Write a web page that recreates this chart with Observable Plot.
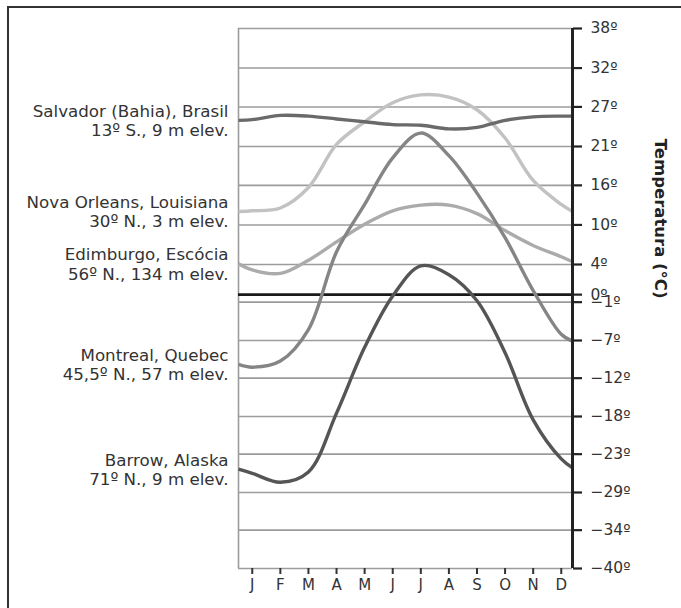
<!DOCTYPE html>
<html>
<head>
<meta charset="utf-8">
<script src="https://cdn.jsdelivr.net/npm/d3@7"></script>
<script src="https://cdn.jsdelivr.net/npm/@observablehq/plot@0.6"></script>
<style>
  html, body { margin: 0; padding: 0; background: #fff; overflow: hidden; }
  #wrap { position: relative; width: 681px; height: 608px; overflow: hidden; }
  #border { position: absolute; left: 7px; top: 6px; width: 760px; height: 760px; border: 2px solid #333; box-sizing: border-box; }
  #chart { position: absolute; left: 0; top: 0; }
</style>
</head>
<body>
<div id="wrap"><div id="border"></div><div id="chart"></div></div>
<script>
// Months (x axis)
const months = ["J","F","M","A","M","J","J","A","S","O","N","D"];

// Right-axis tick positions (°C) and their printed labels
const tickValues = [37.8, 32.2, 26.7, 21.1, 15.6, 10, 4.4, 0, -1.1, -6.7, -12.2, -17.8, -23.3, -28.9, -34.4, -40];
const tickLabels = ["38º","32º","27º","21º","16º","10º","4º","0º","−1º","−7º","−12º","−18º","−23º","−29º","−34º","−40º"];

// Station names (two-line labels)
const names = ["Salvador", "NovaOrleans", "Edimburgo", "Montreal", "Barrow"];
const labels = [
  "Salvador (Bahia), Brasil\n13º S., 9 m elev.",
  "Nova Orleans, Louisiana\n30º N., 3 m elev.",
  "Edimburgo, Escócia\n56º N., 134 m elev.",
  "Montreal, Quebec\n45,5º N., 57 m elev.",
  "Barrow, Alaska\n71º N., 9 m elev."
];
const colors = ["#6a6a6a", "#c2c2c2", "#ababab", "#858585", "#555555"];

// Monthly mean temperatures (°C), Jan..Dec
const salvador    = [24.9, 25.5, 25.4, 25.0, 24.6, 24.2, 24.1, 23.6, 23.8, 24.8, 25.3, 25.4];
const novaOrleans = [12.0, 12.4, 15.3, 21.4, 24.6, 27.3, 28.4, 28.1, 26.3, 22.3, 16.3, 12.9];
const edimburgo   = [3.6, 3.1, 5.0, 7.6, 10.1, 12.0, 12.8, 12.8, 11.6, 9.2, 7.1, 5.5];
const montreal    = [-10.6, -9.7, -5.1, 6.2, 12.9, 19.5, 23.0, 19.8, 14.5, 8.2, 0.6, -5.8];
const barrow      = [-26.1, -27.4, -25.9, -17.3, -7.7, -0.2, 4.2, 2.9, -0.9, -8.5, -18.3, -24.0];

// Values where each curve meets the left and right edges of the plot
const edgeStart = [24.8, 11.9, 4.5, -10.2, -25.5];
const edgeEnd   = [25.4, 11.9, 4.8, -6.8, -25.3];

const series = [salvador, novaOrleans, edimburgo, montreal, barrow];
const xDomain = [-0.49, 11.4];

function rowsFor(k) {
  const rows = [{x: xDomain[0], t: edgeStart[k]}];
  series[k].forEach((v, i) => rows.push({x: i, t: v}));
  rows.push({x: xDomain[1], t: edgeEnd[k]});
  return rows;
}

const labelRows = names.map((n, k) => ({name: n, label: labels[k], first: edgeStart[k]}));
const labelOf = new Map(tickValues.map((v, i) => [v, tickLabels[i]]));

const drawOrder = [1, 2, 3, 4, 0];

const plot = Plot.plot({
  width: 681,
  height: 608,
  marginLeft: 238,
  marginRight: 109,
  marginTop: 28,
  marginBottom: 40,
  style: {fontFamily: "'DejaVu Sans', Verdana, sans-serif", background: "transparent", color: "#333"},
  x: {type: "linear", domain: xDomain, axis: null},
  y: {type: "linear", domain: [-40, 4.4, 37.8], range: [568, 264, 28], axis: null},
  marks: [
    Plot.ruleY(tickValues.filter(v => v !== 0), {stroke: "#9c9c9c", strokeWidth: 1.6}),
    Plot.ruleX([xDomain[0]], {stroke: "#9c9c9c", strokeWidth: 1.6}),
    Plot.ruleY([0], {stroke: "#1a1a1a", strokeWidth: 2.6}),
    ...drawOrder.map(k => Plot.line(rowsFor(k), {
      x: "x", y: "t", curve: "catmull-rom",
      stroke: colors[k], strokeWidth: 3.4, strokeLinecap: "butt"
    })),
    Plot.ruleX([xDomain[1]], {stroke: "#222", strokeWidth: 3}),
    Plot.axisY(tickValues, {
      anchor: "right", tickSize: 9, tickPadding: 9,
      stroke: "#222", strokeWidth: 2.2,
      tickFormat: d => labelOf.get(d),
      fontSize: 15.5, fill: "#333", label: null
    }),
    Plot.axisX(d3.range(12), {
      anchor: "bottom", tickSize: 6, tickPadding: 5,
      stroke: "#333", strokeWidth: 2,
      tickFormat: i => months[i],
      fontSize: 15, fill: "#333", label: null
    }),
    Plot.text(labelRows, {
      y: "first", text: "label", frameAnchor: "left", dx: -10,
      textAnchor: "end", lineAnchor: "middle", lineHeight: 1.15,
      fontSize: 16.7, fill: "#333"
    }),
    Plot.text(["Temperatura (°C)"], {
      frameAnchor: "right", dx: 88, rotate: 90,
      fontWeight: "bold", fontSize: 16.5, fill: "#222"
    })
  ]
});

document.getElementById("chart").appendChild(plot);
</script>
</body>
</html>
